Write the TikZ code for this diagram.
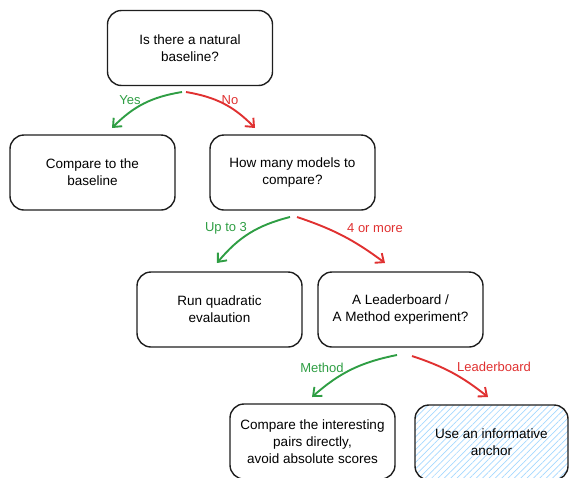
\documentclass[tikz,border=0pt]{standalone}
\usepackage{fontspec}
\setmainfont{Liberation Sans}
\usetikzlibrary{arrows.meta,patterns.meta}
\definecolor{inkc}{HTML}{1E1E1E}
\definecolor{yesc}{HTML}{2F9E44}
\definecolor{noc}{HTML}{E03131}
\definecolor{hatchc}{HTML}{A5D8FF}
\tikzset{
  box/.style={draw=inkc, line width=1.4pt, rounded corners=14pt, minimum width=165pt, minimum height=75pt, align=center, font=\fontsize{13.5}{17}\selectfont, inner sep=0pt},
  yesarrow/.style={draw=yesc, line width=1.9pt, -{Straight Barb[length=7pt,width=12pt,line width=1.9pt]}},
  noarrow/.style={draw=noc, line width=1.9pt, -{Straight Barb[length=7pt,width=12pt,line width=1.9pt]}},
  yeslbl/.style={text=yesc, font=\fontsize{13}{15}\selectfont},
  nolbl/.style={text=noc, font=\fontsize{13}{15}\selectfont},
}
\begin{document}
\begin{tikzpicture}[x=1pt,y=-1pt]
\useasboundingbox (0,0) rectangle (570,477);
\node[box] (q1) at (190,48) {Is there a natural\\baseline?};
\node[box] (base) at (92.5,172.5) {Compare to the\\baseline};
\node[box] (q2) at (292.5,172.5) {How many models to\\compare?};
\node[box] (quad) at (219.5,309.5) {Run quadratic\\evalaution};
\node[box] (q3) at (400.5,309.5) {A Leaderboard /\\ A Method experiment?};
\node[box] (pairs) at (312.5,441.5) {Compare the interesting\\pairs directly,\\avoid absolute scores};
\node[box, minimum width=153pt, pattern={Lines[angle=45,distance=4.5pt,line width=0.7pt]}, pattern color=hatchc] (anchor) at (491.5,442.5) {Use an informative\\anchor};
% arrows
\coordinate (q1s1) at (182,92);
\coordinate (q1s2) at (186,92);
\coordinate (baseT) at (112,128);
\coordinate (q2T) at (255,128);
\draw[yesarrow] (q1s1) to[bend right=18] (baseT);
\draw[noarrow] (q1s2) to[bend left=18] (q2T);
\node[yeslbl] (lyes) at (130,100) {Yes};
\node[nolbl] (lno) at (230,100) {No};
\coordinate (q2s1) at (290,217);
\coordinate (q2s2) at (297,217);
\coordinate (quadT) at (217,263);
\coordinate (q3T) at (385,263);
\draw[yesarrow] (q2s1) to[bend right=18] (quadT);
\draw[noarrow] (q2s2) to[bend left=9] (q3T);
\node[yeslbl] (lup) at (226,228) {Up to 3};
\node[nolbl] (lfour) at (375,228) {4 or more};
\coordinate (q3s1) at (397,355);
\coordinate (q3s2) at (412,356);
\coordinate (pairsT) at (312,397);
\coordinate (anchorT) at (488,397);
\draw[yesarrow] (q3s1) to[bend right=15] (pairsT);
\draw[noarrow] (q3s2) to[bend left=10] (anchorT);
\node[yeslbl] (lmeth) at (322,368) {Method};
\node[nolbl] (llead) at (494,367) {Leaderboard};
\end{tikzpicture}
\end{document}
